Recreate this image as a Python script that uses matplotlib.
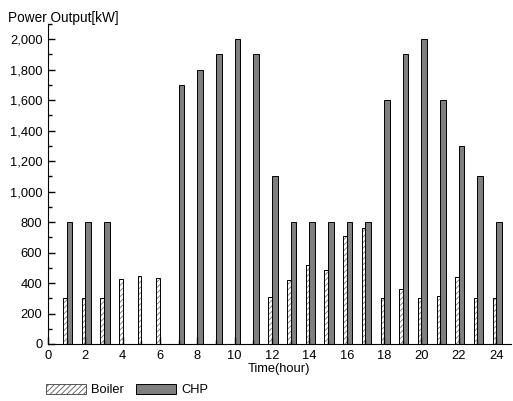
import matplotlib
matplotlib.use("Agg")
import matplotlib.pyplot as plt
from matplotlib.ticker import FuncFormatter, MultipleLocator
from matplotlib.patches import Patch

plt.rcParams['font.family'] = ['Liberation Sans', 'DejaVu Sans']
plt.rcParams['hatch.linewidth'] = 0.6

hours = list(range(1, 25))
boiler = [300, 300, 300, 424, 444, 435, 0, 0, 0, 0, 0, 306,
          420, 516, 483, 708, 760, 300, 360, 300, 315, 439, 300, 300]
chp = [800, 800, 800, 0, 0, 0, 1700, 1800, 1900, 2000, 1900, 1100,
       800, 800, 800, 800, 800, 1600, 1900, 2000, 1600, 1300, 1100, 800]

FS = 9.3
fig = plt.figure(figsize=(5.13, 4.01), dpi=100)
ax = fig.add_axes([48/513, 1-344/401, (511-48)/513, (344-24)/401])

bw = 0.19
cw = 0.30
bx = [h - bw/2 for h in hours]
cx = [h + cw/2 for h in hours]
# hatch in gray, outline in black
ax.bar(bx, boiler, width=bw, color='white', edgecolor='#777777',
       hatch='//////', linewidth=0)
ax.bar(bx, boiler, width=bw, fill=False, edgecolor='black', linewidth=0.7)
ax.bar(cx, chp, width=cw, color='#7f7f7f', edgecolor='black', linewidth=0.7)

ax.set_xlim(0, 24.8)
ax.set_ylim(0, 2100)
ax.spines['top'].set_visible(False)
ax.spines['right'].set_visible(False)
ax.xaxis.set_major_locator(MultipleLocator(2))
ax.xaxis.set_minor_locator(MultipleLocator(1))
ax.yaxis.set_major_locator(MultipleLocator(200))
ax.yaxis.set_minor_locator(MultipleLocator(100))
ax.yaxis.set_major_formatter(FuncFormatter(lambda v, p: f"{int(v):,}"))
ax.tick_params(which='both', direction='in', labelsize=FS, width=1)
ax.tick_params(which='major', length=5)
ax.tick_params(which='minor', length=3)
ax.tick_params(axis='x', pad=4)
ax.tick_params(axis='y', pad=4)

fig.text(8/513, 1-18/401, 'Power Output[kW]', fontsize=FS+0.5, va='center', ha='left')
fig.text(279/513, 1-369/401, 'Time(hour)', fontsize=FS, va='center', ha='center')

handles = [Patch(facecolor='white', edgecolor='#555555', hatch='//////', linewidth=0.7, label='Boiler'),
           Patch(facecolor='#7f7f7f', edgecolor='black', linewidth=0.7, label='CHP')]
fig.legend(handles=handles, loc='center left', bbox_to_anchor=(46/513, 1-390/401),
           ncol=2, frameon=False, fontsize=FS, handlelength=3.1, handleheight=0.8,
           columnspacing=0.9, handletextpad=0.4, borderpad=0, borderaxespad=0)

fig.savefig('out.png', dpi=100)
